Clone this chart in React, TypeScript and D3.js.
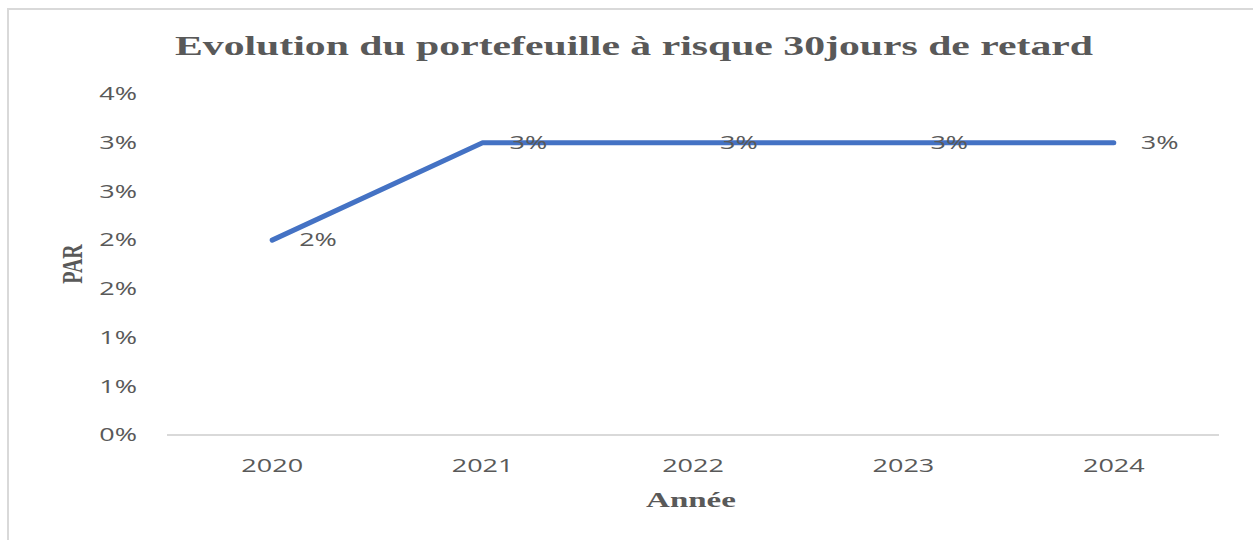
import React from 'react';
import * as d3 from 'd3';

const years = ['2020', '2021', '2022', '2023', '2024'];
const parValues = [0.02, 0.03, 0.03, 0.03, 0.03];
const yTicks = [0, 0.005, 0.01, 0.015, 0.02, 0.025, 0.03, 0.035];

const title = 'Evolution du portefeuille à risque 30jours de retard';
const xTitle = 'Année';
const yTitle = 'PAR';

const W = 1253, H = 540;
const STRETCH = 1.42; // the source image is squeezed wide, text looks stretched
const grey = '#595959';
const sans = '"Open Sans", sans-serif';
const serif = '"Liberation Serif", "Times New Roman", serif';

const pct = (v: number) => `${Math.round(v * 100 + 1e-9)}%`;

// text drawn at (x,y) and stretched horizontally around its anchor
const WideText = ({ x, y, anchor = 'middle', size = 19, children, ...rest }: any) => (
  <text
    transform={`translate(${x},${y}) scale(${STRETCH},1)`}
    textAnchor={anchor}
    fontSize={size}
    fontFamily={sans}
    fill={grey}
    {...rest}
  >
    {children}
  </text>
);

export default function App() {
  const x = d3.scaleBand<string>().domain(years).range([167, 1219]);
  const y = d3.scaleLinear().domain([0, 0.035]).range([435, 94]);
  const cx = (d: string) => (x(d) ?? 0) + x.bandwidth() / 2;

  const line = d3.line<number>()
    .x((_, i) => cx(years[i]))
    .y(d => y(d));

  return (
    <svg width={W} height={H} style={{ position: 'absolute', left: 0, top: 0, background: '#fff' }}>
      {/* chart frame */}
      <rect x={8} y={9} width={W + 20} height={H + 20} fill="#fff" stroke="#d9d9d9" strokeWidth={2} />

      <text
        x={634}
        y={55}
        textAnchor="middle"
        fontFamily={serif}
        fontWeight="bold"
        fontSize={28}
        fill={grey}
        textLength={918}
        lengthAdjust="spacingAndGlyphs"
      >
        {title}
      </text>

      {/* y tick labels */}
      {yTicks.map(t => (
        <WideText key={t} x={137} y={y(t)} anchor="end" dy="0.33em">
          {pct(t)}
        </WideText>
      ))}

      {/* x axis */}
      <line x1={x.range()[0]} x2={x.range()[1]} y1={y(0)} y2={y(0)} stroke="#d9d9d9" strokeWidth={2} />
      {years.map(d => (
        <WideText key={d} x={cx(d)} y={472}>
          {d}
        </WideText>
      ))}

      <text
        transform={`translate(691,507) scale(1.5,1)`}
        textAnchor="middle"
        fontFamily={serif}
        fontWeight="bold"
        fontSize={22}
        fill={grey}
      >
        {xTitle}
      </text>
      <text
        transform={`translate(82,264) scale(${STRETCH},1) rotate(-90)`}
        textAnchor="middle"
        fontFamily={serif}
        fontWeight="bold"
        fontSize={20}
        fill={grey}
      >
        {yTitle}
      </text>

      {/* series */}
      <path d={line(parValues) ?? ''} fill="none" stroke="#4472C4" strokeWidth={5} strokeLinecap="round" strokeLinejoin="round" />

      {/* data labels, right of each point */}
      {parValues.map((v, i) => (
        <WideText key={years[i]} x={cx(years[i]) + 27} y={y(v)} anchor="start" dy="0.33em">
          {pct(v)}
        </WideText>
      ))}
    </svg>
  );
}
